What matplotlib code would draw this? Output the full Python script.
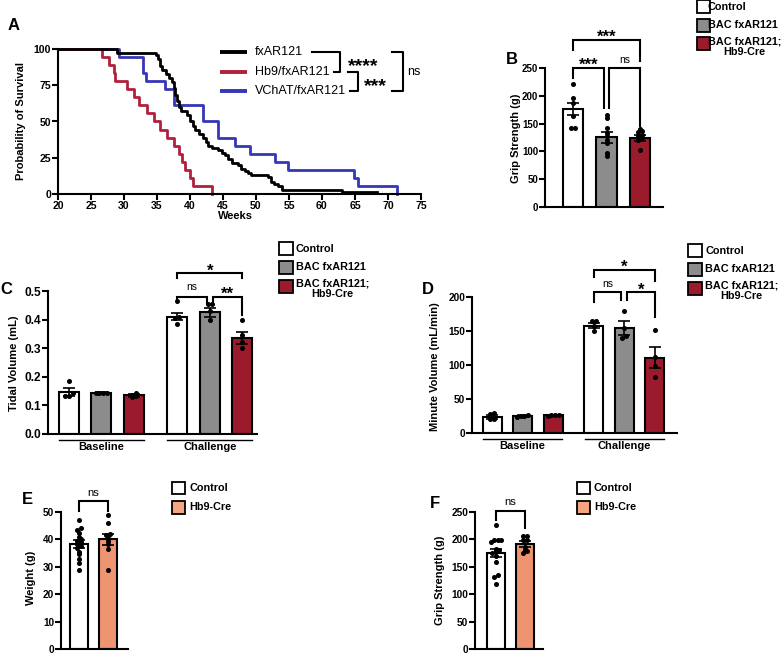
import numpy as np
import matplotlib
matplotlib.use("Agg")
import matplotlib.pyplot as plt
import matplotlib.transforms as mtransforms
from matplotlib.patches import Rectangle

plt.rcParams['font.family'] = ['Liberation Sans', 'DejaVu Sans']
plt.rcParams['font.weight'] = 'bold'

# ---------------- data ----------------
# A: Kaplan-Meier steps (week of drop, survival % after drop)
fx_t = [28.9, 34.8, 35.2, 35.5, 35.8, 36.3, 36.8, 37.2, 37.5, 37.8, 38.1, 38.4, 38.7,
        39.5, 40.0, 40.4, 40.8, 41.4, 41.9, 42.4, 42.8, 43.3, 44.3, 44.8, 45.3, 45.8,
        46.3, 47.3, 47.8, 48.3, 48.8, 49.3, 51.8, 52.3, 52.8, 53.3, 54.0, 63.0, 68.3]
fx_s = [97.1, 95.7, 92.9, 88.6, 85.7, 82.9, 80.0, 77.1, 72.9, 68.6, 64.3, 60.0, 57.1,
        54.3, 50.0, 47.1, 44.3, 41.4, 38.6, 35.7, 32.9, 31.4, 30.0, 28.6, 27.1, 24.3,
        21.4, 20.0, 17.1, 15.7, 14.3, 12.9, 11.4, 8.6, 7.1, 5.7, 2.9, 1.4, 1.4]
hb9_t = [26.7, 27.8, 28.5, 28.7, 30.5, 31.5, 32.3, 33.5, 34.5, 35.5, 36.5, 37.5,
         38.3, 38.8, 39.3, 40.0, 40.5, 43.3]
hb9_s = [94.4, 88.9, 83.3, 77.8, 72.2, 66.7, 61.1, 55.6, 50.0, 44.4, 38.9, 33.3,
         27.8, 22.2, 16.7, 11.1, 5.6, 0.0]
vch_t = [29.3, 32.9, 33.3, 36.2, 37.5, 42.0, 44.3, 46.8, 49.1, 52.9, 54.9, 64.8, 65.5, 71.4]
vch_s = [94.4, 83.3, 77.8, 72.2, 61.1, 50.0, 38.9, 33.3, 27.8, 22.2, 16.7, 11.1, 5.6, 0.0]

# B: grip strength
b_mean = [176, 125, 124]
b_sem = [11, 10, 6]
b_ctrl = [221, 196, 187, 163, 142, 142]
b_bac = [166, 160, 142, 133, 127, 121, 115, 97, 91]
b_hb9 = [140, 137, 134, 130, 127, 124, 121, 103]

# C: tidal volume (baseline x3, challenge x3)
c_mean = [0.147, 0.143, 0.135, 0.410, 0.425, 0.335]
c_sem = [0.015, 0.003, 0.005, 0.012, 0.015, 0.022]
c_dots = [[0.185, 0.142, 0.134, 0.134], [0.145, 0.143, 0.143, 0.142],
          [0.142, 0.138, 0.132, 0.130], [0.465, 0.41, 0.405, 0.385],
          [0.455, 0.455, 0.43, 0.40], [0.40, 0.345, 0.32, 0.30]]

# D: minute volume
d_mean = [24, 25, 26, 158, 154, 111]
d_sem = [3, 1, 1, 4, 10, 15]
d_dots = [[29, 28, 20, 20], [26, 25, 25, 24], [27, 27, 26, 25],
          [165, 164, 157, 150], [180, 154, 142, 140], [152, 112, 98, 83]]

# E: weight
e_mean = [38.3, 40.0]
e_sem = [1.3, 2.0]
e_ctrl = [47, 44, 43.5, 42.5, 41, 40, 39.5, 39, 38.5, 37.5, 37, 35.5, 34.5, 33, 31.5, 29]
e_hb9 = [49, 46, 42, 41.5, 40.5, 39.5, 38.5, 36.5, 29]

# F: grip strength
f_mean = [175, 192]
f_sem = [8, 5]
f_ctrl = [227, 199, 198, 198, 196, 182, 180, 178, 176, 170, 159, 135, 132, 118]
f_hb9 = [207, 206, 199, 198, 187, 181, 179, 176]

WHITE, GRAY, RED, ORANGE = 'white', '#8c8c8c', '#9b1a2c', '#ee9470'
three_cols = [WHITE, GRAY, RED]

# ---------------- figure ----------------
W, H = 782, 653
fig = plt.figure(figsize=(W / 100, H / 100), dpi=100)


def px_axes(l, t, r, b):
    return fig.add_axes([l / W, 1 - b / H, (r - l) / W, (b - t) / H])


def style(ax, fs):
    for s in ['top', 'right']:
        ax.spines[s].set_visible(False)
    for s in ['left', 'bottom']:
        ax.spines[s].set_linewidth(1.5)
    ax.tick_params(width=1.5, length=4, labelsize=fs, pad=1)


def spread(vals, tol, step):
    # simple deterministic swarm: values close to each other sit side by side
    vals = np.asarray(vals, float)
    order = np.argsort(vals)
    offs = np.zeros(len(vals))
    groups, cur = [], [order[0]]
    for i in order[1:]:
        if vals[i] - vals[cur[0]] < tol and len(cur) < 4:
            cur.append(i)
        else:
            groups.append(cur)
            cur = [i]
    groups.append(cur)
    for g in groups:
        k = len(g)
        for j, i in enumerate(g):
            offs[i] = (j - (k - 1) / 2) * step
    return offs


def bars(ax, pos, means, sems, cols, dots, tol, width=0.62):
    ax.bar(pos, means, width=width, color=cols, edgecolor='black', linewidth=1.5, zorder=2)
    ax.errorbar(pos, means, yerr=sems, fmt='none', ecolor='black', elinewidth=1.2,
                capsize=4.5, capthick=1.2, zorder=3)
    for p, d in zip(pos, dots):
        x = p + spread(d, tol, 0.12)
        ax.plot(x, d, 'o', ms=2.6, color='black', zorder=4, clip_on=False)


def bracket(ax, x1, x2, y, y1, y2, text, dy, fs=12, weight='bold'):
    ax.plot([x1, x1, x2, x2], [y1, y, y, y2], color='black', lw=1.5, clip_on=False,
            solid_joinstyle='miter')
    ax.text((x1 + x2) / 2, y + dy, text, ha='center', va='bottom', fontsize=fs,
            fontweight=weight, clip_on=False)


def groups_under(ax, centers, half, names):
    tr_line = mtransforms.offset_copy(ax.get_xaxis_transform(), fig=fig, y=-6, units='dots')
    tr_text = mtransforms.offset_copy(ax.get_xaxis_transform(), fig=fig, y=-8, units='dots')
    for c, n in zip(centers, names):
        ax.plot([c - half, c + half], [0, 0], color='black', lw=1.0, transform=tr_line,
                clip_on=False)
        ax.text(c, 0, n, ha='center', va='top', fontsize=8, transform=tr_text)


# ---- A ----
axA = px_axes(58, 49, 421, 194)
style(axA, 7.6)
axA.step([20] + vch_t, [100] + vch_s, where='post', color='#3636b8', lw=2.0, clip_on=False)
axA.step([20] + hb9_t, [100] + hb9_s, where='post', color='#b01f3c', lw=2.0, clip_on=False)
axA.step([20] + fx_t + [68.3], [100] + fx_s + [1.4], where='post', color='black', lw=2.0,
         clip_on=False)
axA.set_xlim(20, 75)
axA.set_ylim(0, 100)
axA.set_xticks(range(20, 76, 5))
axA.set_yticks([0, 25, 50, 75, 100])

# ---- B ----
axB = px_axes(545, 68, 663, 207)
style(axB, 7.0)
bars(axB, [0, 1, 2], b_mean, b_sem, three_cols, [b_ctrl, b_bac, b_hb9], 5)
axB.set_xlim(-0.84, 2.69)
axB.set_ylim(0, 250)
axB.set_yticks([0, 50, 100, 150, 200, 250])
axB.set_xticks([])
bracket(axB, 0, 2, 301, 283, 262, '***', -9)
bracket(axB, 0, 0.93, 250, 232, 178, '***', -9)
bracket(axB, 1.07, 2, 250, 178, 145, 'ns', 5, fs=7.5, weight='normal')

# ---- C ----
posCD = [0, 1, 2, 3.33, 4.33, 5.33]
axC = px_axes(48, 291, 257, 434)
style(axC, 8.6)
bars(axC, posCD, c_mean, c_sem, three_cols * 2, c_dots, 0.008)
axC.set_xlim(-0.64, 5.78)
axC.set_ylim(0, 0.5)
axC.set_yticks([0, 0.1, 0.2, 0.3, 0.4, 0.5])
axC.set_yticklabels(['0.0', '0.1', '0.2', '0.3', '0.4', '0.5'])
axC.set_xticks([])
groups_under(axC, [1, 4.33], 1.3, ['Baseline', 'Challenge'])
bracket(axC, 3.33, 5.33, 0.562, 0.545, 0.545, '*', -0.018)
bracket(axC, 3.33, 4.23, 0.48, 0.463, 0.455, 'ns', 0.015, fs=7.5, weight='normal')
bracket(axC, 4.43, 5.33, 0.48, 0.455, 0.416, '**', -0.018)

# ---- D ----
axD = px_axes(472, 297, 677, 433)
style(axD, 7.3)
bars(axD, posCD, d_mean, d_sem, three_cols * 2, d_dots, 3.5)
axD.set_xlim(-0.66, 6.06)
axD.set_ylim(0, 200)
axD.set_yticks([0, 50, 100, 150, 200])
axD.set_xticks([])
groups_under(axD, [1, 4.33], 1.3, ['Baseline', 'Challenge'])
bracket(axD, 3.33, 5.33, 240, 229, 224, '*', -8)
bracket(axD, 3.33, 4.23, 207, 193, 195, 'ns', 5, fs=7.5, weight='normal')
bracket(axD, 4.43, 5.33, 207, 195, 170, '*', -8)

# ---- E ----
axE = px_axes(61, 512, 128, 649)
style(axE, 7.2)
bars(axE, [0, 1], e_mean, e_sem, [WHITE, ORANGE], [e_ctrl, e_hb9], 1.0)
axE.set_xlim(-0.62, 1.69)
axE.set_ylim(0, 50)
axE.set_yticks([0, 10, 20, 30, 40, 50])
axE.set_xticks([])
bracket(axE, 0, 1, 53.9, 50.2, 50.2, 'ns', 1.3, fs=8, weight='normal')

# ---- F ----
axF = px_axes(475, 512, 543, 649)
style(axF, 7.3)
bars(axF, [0, 1], f_mean, f_sem, [WHITE, ORANGE], [f_ctrl, f_hb9], 5)
axF.set_xlim(-0.72, 1.62)
axF.set_ylim(0, 250)
axF.set_yticks([0, 50, 100, 150, 200, 250])
axF.set_xticks([])
bracket(axF, 0, 1, 252, 235, 220, 'ns', 7, fs=8, weight='normal')

# ---------------- overlay: labels, legends ----------------
ov = fig.add_axes([0, 0, 1, 1])
ov.set_xlim(0, W)
ov.set_ylim(H, 0)
ov.axis('off')
ov.patch.set_alpha(0)

for lab, x, y in [('A', 14, 26), ('B', 512, 59), ('C', 6, 289), ('D', 428, 290),
                  ('E', 27, 499), ('F', 435, 503)]:
    ov.text(x, y, lab, fontsize=12, ha='center', va='center')

for txt, x, y in [('Probability of Survival', 21, 121), ('Grip Strength (g)', 516, 138),
                  ('Tidal Volume (mL)', 14, 363), ('Minute Volume (mL/min)', 435, 367),
                  ('Weight (g)', 31, 578), ('Grip Strength (g)', 440, 580)]:
    ov.text(x, y, txt, rotation=90, fontsize=8, ha='center', va='center')
ov.text(235, 216, 'Weeks', fontsize=8, ha='center', va='center')

# A legend with stats brackets
for name, col, y in [('fxAR121', 'black', 52), ('Hb9/fxAR121', '#b01f3c', 72),
                     ('VChAT/fxAR121', '#3636b8', 91)]:
    ov.plot([220, 247], [y, y], color=col, lw=2.8, solid_capstyle='butt')
    ov.text(255, y, name, fontsize=9, fontweight='normal', ha='left', va='center')
ov.plot([312, 340, 340, 334], [52, 52, 72, 72], color='black', lw=1.5)
ov.plot([348, 358, 358, 350], [72, 72, 91, 91], color='black', lw=1.5)
ov.plot([392, 403, 403, 392], [52, 52, 91, 91], color='black', lw=1.5)
ov.text(363, 67, '****', fontsize=14, ha='center', va='center')
ov.text(375, 87, '***', fontsize=14, ha='center', va='center')
ov.text(407, 72, 'ns', fontsize=9, fontweight='normal', ha='left', va='center')


def box_legend(x, ys, cols, names, size, tx):
    for y, c, n in zip(ys, cols, names):
        ov.add_patch(Rectangle((x, y - size / 2), size, size, facecolor=c, edgecolor='black',
                               lw=1.3))
        if '\n' in n:
            ov.text(tx, y - size / 2 - 1, n, fontsize=7.8, ha='left', va='top',
                    multialignment='center', linespacing=1.05)
        else:
            ov.text(tx, y, n, fontsize=7.8, ha='left', va='center')


names3 = ['Control', 'BAC fxAR121', 'BAC fxAR121;\nHb9-Cre']
box_legend(697, [6.5, 25.5, 43.5], three_cols, names3, 12.7, 708)
box_legend(279, [248.5, 267.5, 286.5], three_cols, names3, 13.5, 296)
box_legend(688, [250.5, 269.5, 288.5], three_cols, names3, 13.5, 705)
box_legend(172, [488, 507.5], [WHITE, '#f3a680'], ['Control', 'Hb9-Cre'], 12.7, 189)
box_legend(577, [488, 507.5], [WHITE, '#f3a680'], ['Control', 'Hb9-Cre'], 12.7, 594)

fig.savefig('out.png', dpi=100)
